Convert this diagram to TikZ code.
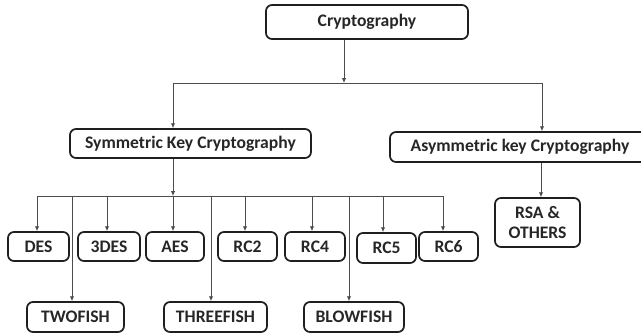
\documentclass[tikz,border=0pt]{standalone}
\usepackage{fontspec}
\setmainfont{Carlito}
\usetikzlibrary{arrows.meta}
\begin{document}
\begin{tikzpicture}[x=0.75pt,y=-0.75pt,
  box/.style={draw=black!88, line width=1.3pt, rounded corners=4.5pt, inner sep=0pt,
    font=\fontsize{13.2pt}{15pt}\selectfont\bfseries, text=black!85, align=center},
  link/.style={draw=black!70, line width=0.6pt},
  arr/.style={link, -{Latex[length=3.6pt,width=3.2pt]}}]
\useasboundingbox (0,0) rectangle (641,333);
% boxes
\node[box, minimum width=151.5pt, minimum height=25.5pt] (crypto) at (367,22) {Cryptography};
\node[box, minimum width=180.75pt, minimum height=21.75pt] (sym) at (190.5,143.5) {Symmetric Key Cryptography};
\node[box, minimum width=195pt, minimum height=22.5pt] (asym) at (520,147) {Asymmetric key Cryptography};
\node[box, minimum width=45.75pt, minimum height=21.75pt] (des) at (38.5,246.5) {DES};
\node[box, minimum width=46.5pt, minimum height=21.75pt] (tdes) at (109,246.5) {3DES};
\node[box, minimum width=43.5pt, minimum height=21.75pt] (aes) at (175,246.5) {AES};
\node[box, minimum width=44.25pt, minimum height=21.75pt] (rctwo) at (247.5,246.5) {RC2};
\node[box, minimum width=45pt, minimum height=21.75pt] (rcfour) at (315,246.5) {RC4};
\node[box, minimum width=44.25pt, minimum height=22.5pt] (rcfive) at (386.5,248) {RC5};
\node[box, minimum width=44.25pt, minimum height=21.75pt] (rcsix) at (448.5,246.5) {RC6};
\node[box, minimum width=72.75pt, minimum height=22.5pt] (twofish) at (75.5,317) {TWOFISH};
\node[box, minimum width=77.25pt, minimum height=22.5pt] (threefish) at (215.5,317) {THREEFISH};
\node[box, minimum width=75pt, minimum height=22.5pt] (blowfish) at (354,317) {BLOWFISH};
\node[box, minimum width=63.75pt, minimum height=36.75pt] (rsa) at (537.5,222.5) {RSA \&\\OTHERS};
% top level bus
\coordinate (j1) at (344,83);
\coordinate (bL) at (173,83);
\coordinate (bR) at (542,83);
\draw[arr] (j1 |- crypto.south) -- (j1);
\draw[link] (bL) -- (bR);
\draw[arr] (bL) -- (bL |- sym.north);
\draw[arr] (bR) -- (bR |- asym.north);
% asymmetric child
\coordinate (ja) at (541,150);
\draw[arr] (ja |- asym.south) -- (ja |- rsa.north);
% symmetric bus
\coordinate (j2) at (173,196);
\coordinate (cL) at (37,196);
\coordinate (cR) at (443,196);
\draw[arr] (j2 |- sym.south) -- (j2);
\draw[link] (cL) -- (cR);
\coordinate (tDES) at (37,196);
\coordinate (tTWO) at (72,196);
\coordinate (tTDES) at (107,196);
\coordinate (tAES) at (173,196);
\coordinate (tTHREE) at (211,196);
\coordinate (tRCtwo) at (245,196);
\coordinate (tRCfour) at (312,196);
\coordinate (tBLOW) at (349,196);
\coordinate (tRCfive) at (383,196);
\coordinate (tRCsix) at (443,196);
\draw[arr] (tDES) -- (tDES |- des.north);
\draw[arr] (tTWO) -- (tTWO |- twofish.north);
\draw[arr] (tTDES) -- (tTDES |- tdes.north);
\draw[arr] (tAES) -- (tAES |- aes.north);
\draw[arr] (tTHREE) -- (tTHREE |- threefish.north);
\draw[arr] (tRCtwo) -- (tRCtwo |- rctwo.north);
\draw[arr] (tRCfour) -- (tRCfour |- rcfour.north);
\draw[arr] (tBLOW) -- (tBLOW |- blowfish.north);
\draw[arr] (tRCfive) -- (tRCfive |- rcfive.north);
\draw[arr] (tRCsix) -- (tRCsix |- rcsix.north);
\end{tikzpicture}
\end{document}
